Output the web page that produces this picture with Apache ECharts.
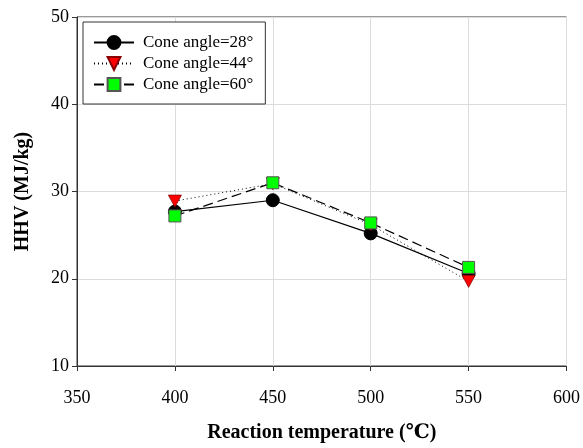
<!DOCTYPE html>
<html>
<head>
<meta charset="utf-8">
<script src="https://cdn.jsdelivr.net/npm/echarts@6/dist/echarts.min.js"></script>
<style>
  html, body { margin: 0; padding: 0; background: #fff; }
  #chart { width: 583px; height: 448px; }
</style>
</head>
<body>
<div id="chart"></div>
<script>
// Reaction temperature (°C) and higher heating value (MJ/kg) for three cone angles
const temperatures = [400, 450, 500, 550];
const hhvCone28 = [27.7, 29.0, 25.2, 20.6];
const hhvCone44 = [28.9, 30.9, 26.2, 19.7];
const hhvCone60 = [27.2, 31.0, 26.4, 21.3];
const seriesNames = ['Cone angle=28°', 'Cone angle=44°', 'Cone angle=60°'];

const serif = '"Liberation Serif", "Times New Roman", "DejaVu Serif", serif';

function pairs(values) {
  return temperatures.map((t, i) => [t, values[i]]);
}

const chart = echarts.init(document.getElementById('chart'), null, { renderer: 'canvas' });

const axisLine = { show: true, lineStyle: { color: '#333', width: 1 } };
const gridLine = { show: true, lineStyle: { color: '#dcdcdc', width: 1 } };

chart.setOption({
  animation: false,
  backgroundColor: '#fff',
  grid: { left: 77, right: 13, top: 17, bottom: 77, show: true, borderColor: '#333', borderWidth: 1 },
  legend: {
    left: 83, top: 22,
    orient: 'vertical',
    itemWidth: 40, itemHeight: 16, itemGap: 4,
    padding: [12, 12, 11, 10],
    borderColor: '#333', borderWidth: 1,
    backgroundColor: '#fff',
    textStyle: { fontFamily: serif, fontSize: 17, color: '#000', padding: [0, 0, 0, 4] },
    data: seriesNames
  },
  xAxis: {
    type: 'value', min: 350, max: 600, interval: 50,
    axisLine: axisLine,
    axisTick: { show: true, length: 5, lineStyle: { color: '#333' } },
    splitLine: gridLine,
    axisLabel: { fontFamily: serif, fontSize: 18, color: '#000', margin: 23,
      showMinLabel: true, showMaxLabel: true },
    name: 'Reaction temperature (℃)',
    nameLocation: 'middle', nameGap: 57,
    nameTextStyle: { fontFamily: serif, fontSize: 20, fontWeight: 'bold', color: '#000' }
  },
  yAxis: {
    type: 'value', min: 10, max: 50, interval: 10,
    axisLine: axisLine,
    axisTick: { show: true, length: 5, lineStyle: { color: '#333' } },
    splitLine: gridLine,
    axisLabel: { fontFamily: serif, fontSize: 18, color: '#000', margin: 8 },
    name: 'HHV (MJ/kg)',
    nameLocation: 'middle', nameGap: 44, nameRotate: 90,
    nameTextStyle: { fontFamily: serif, fontSize: 20, fontWeight: 'bold', color: '#000' }
  },
  series: [
    {
      name: seriesNames[0], type: 'line', data: pairs(hhvCone28),
      symbol: 'circle', symbolSize: 13,
      itemStyle: { color: '#000', borderColor: '#000', borderWidth: 1 },
      lineStyle: { color: '#000', width: 1.2, type: 'solid' },
      z: 2
    },
    {
      name: seriesNames[1], type: 'line', data: pairs(hhvCone44),
      symbol: 'path://M0,0 L10,0 L5,9 Z', symbolSize: [13, 12],
      itemStyle: { color: '#ff0000', borderColor: '#8a0000', borderWidth: 0.8 },
      lineStyle: { color: '#000', width: 1, type: [1, 3] },
      z: 3
    },
    {
      name: seriesNames[2], type: 'line', data: pairs(hhvCone60),
      symbol: 'rect', symbolSize: 12,
      itemStyle: { color: '#00ff00', borderColor: '#555', borderWidth: 1 },
      lineStyle: { color: '#000', width: 1.2, type: [10, 5] },
      z: 4
    }
  ]
});
</script>
</body>
</html>
